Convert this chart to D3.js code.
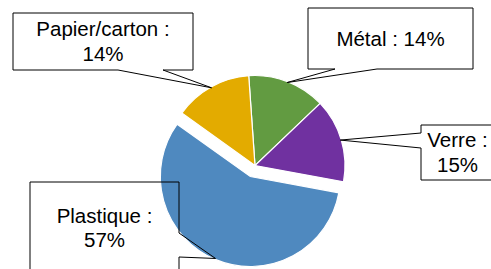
<!DOCTYPE html>
<html>
<head>
<meta charset="utf-8">
<script src="https://cdn.jsdelivr.net/npm/d3@7"></script>
<style>
  html, body { margin: 0; padding: 0; background: #fff; }
  svg { display: block; }
  text { font-family: "Liberation Sans", Arial, sans-serif; font-size: 20.5px; fill: #000; }
</style>
</head>
<body>
<svg id="chart" width="491" height="269"></svg>
<script>
// ---- data ----
const categories = ["Métal", "Verre", "Plastique", "Papier/carton"];
const values = [14, 15, 57, 14];
const colors = ["#629B41", "#7031A0", "#4F89BF", "#E3AB00"];
const exploded = ["Plastique"];

// ---- layout ----
const W = 491, H = 269;
const cx = 255, cy = 165.5, R = 90;
const explodeDist = 12;
const startOffset = -4 * Math.PI / 180;

// label callout layout: box + pointer base points on one edge
const callouts = {
  "Papier/carton": { x: 13, y: 13, w: 180, h: 57, edge: "bottom", b1: 163, b2: 118, lines: ["Papier/carton :", "14%"] },
  "Métal":         { x: 308, y: 8, w: 165, h: 61, edge: "bottom", b1: 377, b2: 335, lines: ["Métal : 14%"] },
  "Verre":         { x: 421, y: 125, w: 73, h: 55, edge: "left", b1: 148, b2: 133, lines: ["Verre :", "15%"] },
  "Plastique":     { x: 30, y: 182, w: 149, h: 92, edge: "right", b1: 233, b2: 257, lines: ["Plastique :", "57%"] }
};

const svg = d3.select("#chart");
const data = categories.map((c, i) => ({ name: c, value: values[i], color: colors[i] }));

const pie = d3.pie().sort(null).value(d => d.value)
  .startAngle(startOffset).endAngle(startOffset + 2 * Math.PI);
const arcs = pie(data);
const arc = d3.arc().innerRadius(0).outerRadius(R);

function offsetOf(a) {
  if (!exploded.includes(a.data.name)) return [0, 0];
  const m = (a.startAngle + a.endAngle) / 2;
  return [explodeDist * Math.sin(m), -explodeDist * Math.cos(m)];
}

const g = svg.append("g").attr("transform", `translate(${cx},${cy})`);
g.selectAll("path.slice").data(arcs).join("path")
  .attr("class", "slice")
  .attr("d", arc)
  .attr("transform", d => { const o = offsetOf(d); return `translate(${o[0]},${o[1]})`; })
  .attr("fill", d => d.data.color)
  .attr("stroke", "#fff")
  .attr("stroke-width", 1.2);

// callouts
const lineH = 24.5;
arcs.forEach(a => {
  const c = callouts[a.data.name];
  const o = offsetOf(a);
  const m = (a.startAngle + a.endAngle) / 2;
  const tip = [cx + o[0] + (R - 1) * Math.sin(m), cy + o[1] - (R - 1) * Math.cos(m)];
  const x0 = c.x, y0 = c.y, x1 = c.x + c.w, y1 = c.y + c.h;
  const p = d3.path();
  p.moveTo(x0, y0);
  if (c.edge === "bottom") {
    p.lineTo(x1, y0); p.lineTo(x1, y1); p.lineTo(c.b1, y1);
    p.lineTo(tip[0], tip[1]); p.lineTo(c.b2, y1); p.lineTo(x0, y1);
  } else if (c.edge === "left") {
    p.lineTo(x1, y0); p.lineTo(x1, y1); p.lineTo(x0, y1); p.lineTo(x0, c.b1);
    p.lineTo(tip[0], tip[1]); p.lineTo(x0, c.b2);
  } else if (c.edge === "right") {
    p.lineTo(x1, y0); p.lineTo(x1, c.b1); p.lineTo(tip[0], tip[1]); p.lineTo(x1, c.b2);
    p.lineTo(x1, y1); p.lineTo(x0, y1);
  }
  p.closePath();
  svg.append("path").attr("d", p.toString())
    .attr("fill", "none").attr("stroke", "#000").attr("stroke-width", 1);

  const tcx = (x0 + x1) / 2, tcy = (y0 + y1) / 2;
  const n = c.lines.length;
  const t = svg.append("text").attr("text-anchor", "middle");
  c.lines.forEach((ln, i) => {
    t.append("tspan").attr("x", tcx)
      .attr("y", tcy + (i - (n - 1) / 2) * lineH + 7)
      .text(ln);
  });
});
</script>
</body>
</html>
